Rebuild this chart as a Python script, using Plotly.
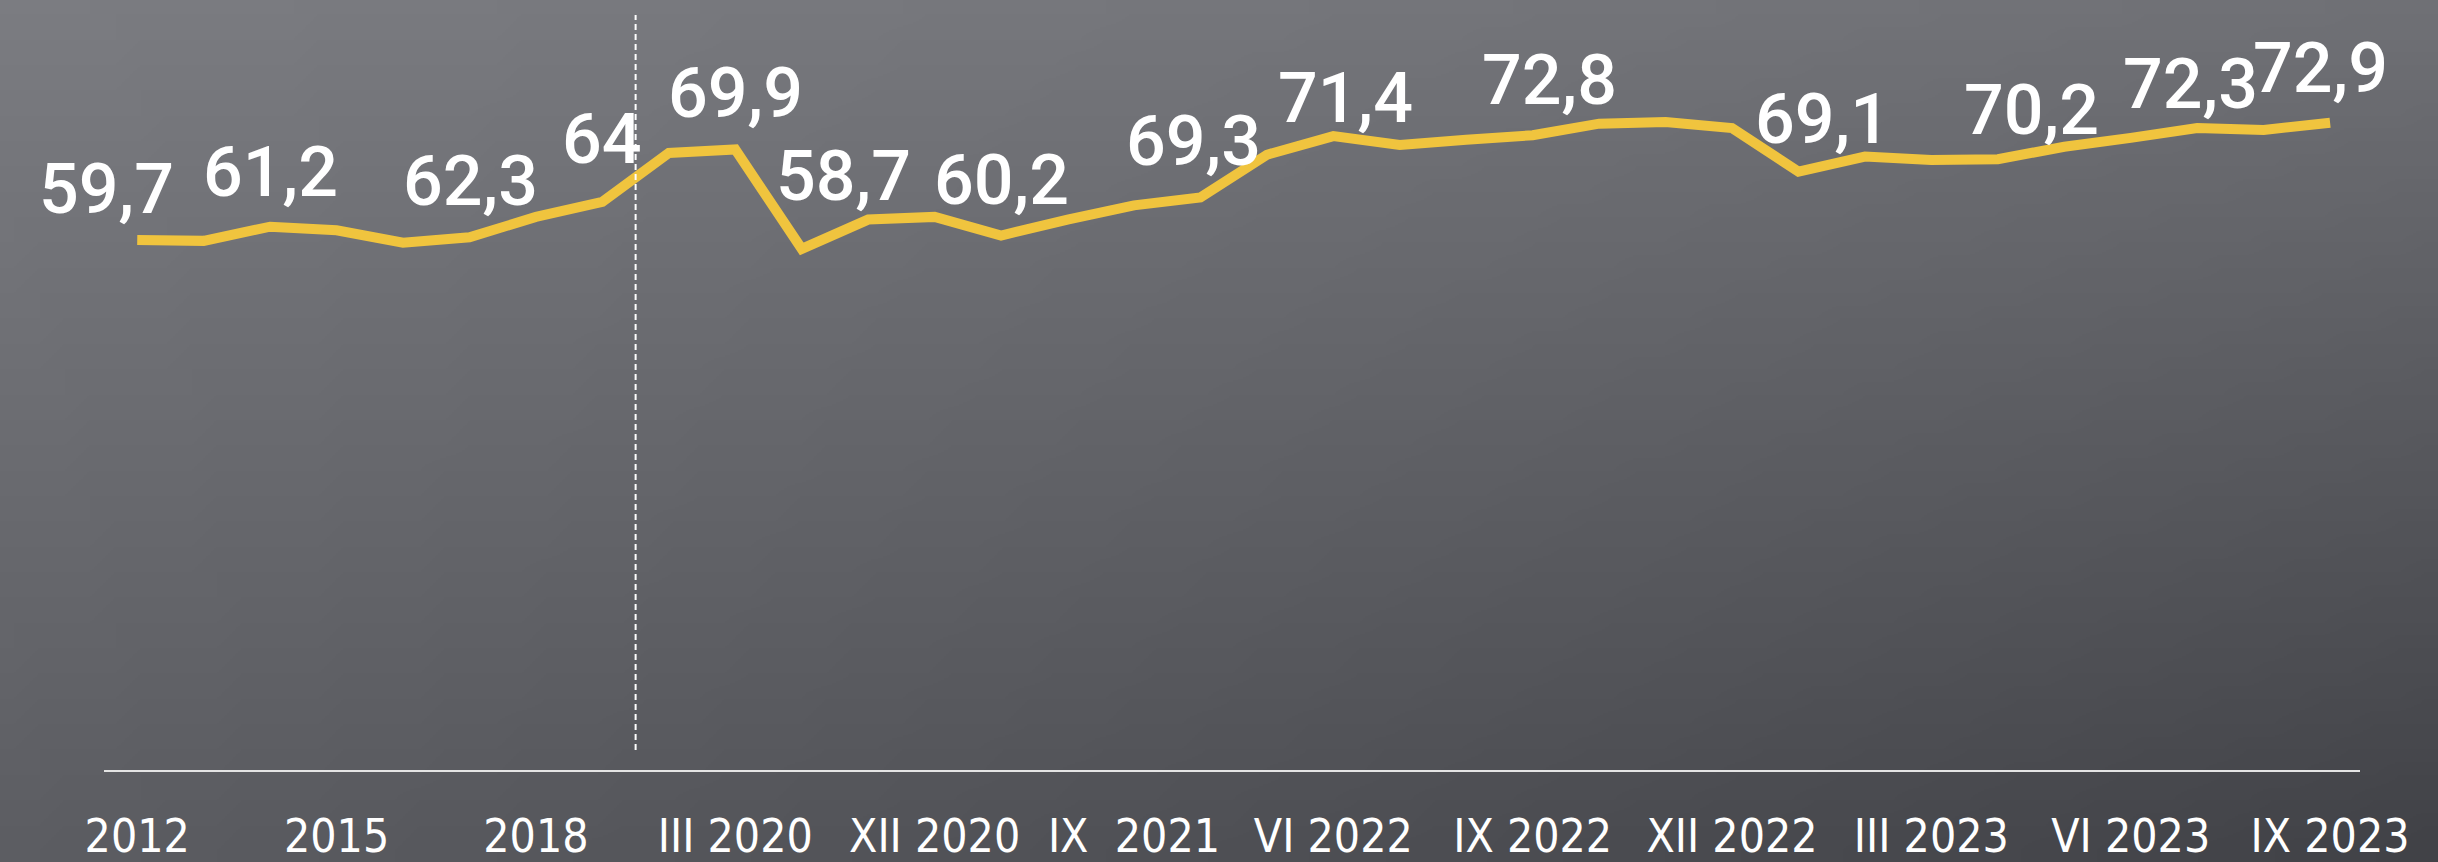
import base64
import struct
import zlib
import plotly.graph_objects as go

# periods (every point of the line) and the shown tick labels
periods = ["2012", "2013", "2014", "2015", "2016", "2017", "2018", "2019",
           "XII 2019", "III 2020", "VI 2020", "IX 2020", "XII 2020",
           "III 2021", "VI 2021", "IX 2021", "XII 2021", "III 2022", "VI 2022",
           "VII 2022", "VIII 2022", "IX 2022", "X 2022", "XI 2022", "XII 2022",
           "I 2023", "II 2023", "III 2023", "IV 2023", "V 2023", "VI 2023",
           "VII 2023", "VIII 2023", "IX 2023"]
values = [59.7, 59.6, 61.2, 60.8, 59.4, 60.0, 62.3, 64.0,
          69.5, 69.9, 58.7, 62.0, 62.3,
          60.2, 62.0, 63.6, 64.5, 69.3, 71.4,
          70.4, 71.0, 71.5, 72.8, 73.0, 72.3,
          67.4, 69.1, 68.7, 68.8, 70.2, 71.2,
          72.3, 72.1, 72.9]
tick_idx = [0, 3, 6, 9, 12, 15, 18, 21, 24, 27, 30, 33]
tick_labels = ["2012", "2015", "2018", "III 2020", "XII 2020", "IX  2021",
               "VI 2022", "IX 2022", "XII 2022", "III 2023", "VI 2023", "IX 2023"]
labelled = [0, 2, 6, 7, 9, 10, 13, 17, 18, 22, 26, 29, 31, 33]

# label nudges in px (hand placed in the original)
label_dx = [-31, 0, -65, 0, 0, 42, 0, -73, 12, -50, -42, -33, -7, -10]
label_dy = [30, 34, 15, 42, 35, 52, 35, -7, 17, 23, 17, 16, 23, 34]

W, H = 2438, 862
ML, MR, MT, MB = 104, 78, 0, 92


def gradient_png(w, h, tl, tr, bl, br):
    rows = []
    for j in range(h):
        fy = j / (h - 1)
        row = bytearray([0])
        for i in range(w):
            fx = i / (w - 1)
            for c in range(3):
                top = tl[c] + (tr[c] - tl[c]) * fx
                bot = bl[c] + (br[c] - bl[c]) * fx
                row.append(int(round(top + (bot - top) * fy)))
        rows.append(bytes(row))

    def chunk(tag, data):
        return struct.pack(">I", len(data)) + tag + data + struct.pack(">I", zlib.crc32(tag + data) & 0xffffffff)

    png = b"\x89PNG\r\n\x1a\n"
    png += chunk(b"IHDR", struct.pack(">IIBBBBB", w, h, 8, 2, 0, 0, 0))
    png += chunk(b"IDAT", zlib.compress(b"".join(rows), 9))
    png += chunk(b"IEND", b"")
    return "data:image/png;base64," + base64.b64encode(png).decode()


bg = gradient_png(96, 34, (0x7b, 0x7c, 0x81), (0x6f, 0x70, 0x75),
                  (0x5c, 0x5d, 0x62), (0x41, 0x42, 0x47))

fig = go.Figure()
fig.add_trace(go.Scatter(
    x=list(range(len(periods))), y=values, mode="lines",
    line=dict(color="#f0c43e", width=10),
    customdata=periods, hovertemplate="%{customdata}: %{y}<extra></extra>",
))

for k, i in enumerate(labelled):
    fig.add_annotation(
        x=i, y=values[i], text=f"{values[i]:g}".replace(".", ","),
        showarrow=False, xanchor="center", yanchor="bottom",
        xshift=label_dx[k], yshift=label_dy[k] - 22,
        font=dict(family="Roboto", size=70, color="white", weight=500),
    )

pw = W - ML - MR
ph = H - MT - MB
fig.add_layout_image(
    source=bg, xref="paper", yref="paper",
    x=-ML / pw, y=1 + MT / ph, sizex=W / pw, sizey=H / ph,
    xanchor="left", yanchor="top", sizing="stretch", layer="below",
)

# dashed separator between yearly and later data
fig.add_shape(type="line", xref="x", yref="paper", x0=7.5, x1=7.5,
              y0=1 - 750 / ph, y1=1 - 15 / ph,
              line=dict(color="white", width=2, dash="6px,4px"))

fig.update_layout(
    width=W, height=H,
    margin=dict(l=ML, r=MR, t=MT, b=MB),
    paper_bgcolor="#5e5f64", plot_bgcolor="rgba(0,0,0,0)",
    showlegend=False,
)
fig.update_xaxes(
    range=[-0.5, 33.45], tickvals=tick_idx, ticktext=tick_labels,
    showgrid=False, zeroline=False, showline=True, linecolor="#e4e4e4", linewidth=2,
    ticks="", ticklabelstandoff=25, automargin=False,
    tickfont=dict(family="DejaVu Sans Condensed", size=46, color="white"),
)
fig.update_yaxes(range=[0, ph / 8.878], visible=False, showgrid=False,
                 zeroline=False, automargin=False)

fig.write_html("out.html", config={"displayModeBar": False},
               post_script="document.body.style.margin='0';document.body.style.overflow='hidden';")
